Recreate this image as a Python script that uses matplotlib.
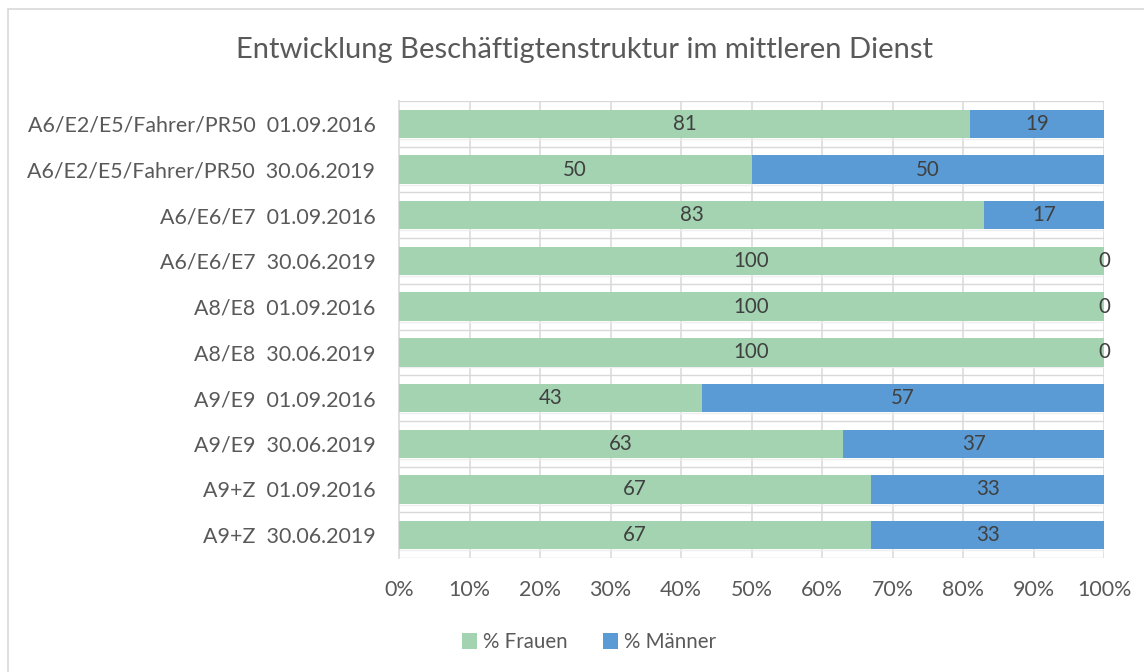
import matplotlib.pyplot as plt
import matplotlib.patches as mpatches

plt.rcParams['font.family'] = ['Lato', 'DejaVu Sans']

# data, top to bottom as in the chart
categories = [
    "A6/E2/E5/Fahrer/PR50  01.09.2016",
    "A6/E2/E5/Fahrer/PR50  30.06.2019",
    "A6/E6/E7  01.09.2016",
    "A6/E6/E7  30.06.2019",
    "A8/E8  01.09.2016",
    "A8/E8  30.06.2019",
    "A9/E9  01.09.2016",
    "A9/E9  30.06.2019",
    "A9+Z  01.09.2016",
    "A9+Z  30.06.2019",
]
frauen = [81, 50, 83, 100, 100, 100, 43, 63, 67, 67]
maenner = [19, 50, 17, 0, 0, 0, 57, 37, 33, 33]

green = "#A3D3B1"
blue = "#5B9BD5"
grid = "#D9D9D9"
txt = "#595959"
lbl = "#404040"

W, H = 1144, 672
fig = plt.figure(figsize=(W / 100, H / 100), dpi=100)

# light chart border (right/bottom edges fall outside the image)
fig.patches.append(mpatches.Rectangle((8 / W, -0.2), 1.2, 1.2 - 9 / H, transform=fig.transFigure,
                                      fill=False, edgecolor=grid, linewidth=1.2))

ax = fig.add_axes([399 / W, 1 - 558 / H, 705 / W, 457 / H])

n = len(categories)
y = list(range(n))
bh = 0.62

ax.barh(y, frauen, height=bh, color=green, label="% Frauen", zorder=3)
ax.barh(y, maenner, left=frauen, height=bh, color=blue, label="% Männer", zorder=3)

for i in range(n):
    ax.text(frauen[i] / 2, i, str(frauen[i]), ha="center", va="center",
            fontsize=14.8, color=lbl, zorder=4)
    ax.text(frauen[i] + maenner[i] / 2, i, str(maenner[i]), ha="center", va="center",
            fontsize=14.8, color=lbl, zorder=4)

ax.set_xlim(0, 100)
ax.set_ylim(n - 0.5, -0.5)
ax.set_yticks(y)
ax.set_yticklabels(categories, fontsize=15.4, color=txt)
ax.set_xticks(range(0, 101, 10))
ax.set_xticklabels([f"{v}%" for v in range(0, 101, 10)], fontsize=15.4, color=txt)
ax.tick_params(length=0)
ax.tick_params(axis="y", pad=17)
ax.tick_params(axis="x", pad=16)

# gridlines
for v in range(10, 101, 10):
    ax.axvline(v, color=grid, linewidth=1.1, zorder=1)
for i in range(n + 1):
    ax.axhline(i - 0.5, color=grid, linewidth=1.0, zorder=1)
for i in range(n):
    ax.axhline(i + bh / 2 + 0.02, color="#EEEEEE", linewidth=1.0, zorder=1)

for s in ["top", "right", "bottom"]:
    ax.spines[s].set_visible(False)
ax.spines["left"].set_color(grid)
ax.spines["left"].set_linewidth(1.2)

fig.text(584 / W, 1 - 50 / H, "Entwicklung Beschäftigtenstruktur im mittleren Dienst",
         ha="center", va="center", fontsize=21, color=txt)

leg = fig.legend(loc="center", bbox_to_anchor=(589 / W, 1 - 642 / H), ncol=2, frameon=False,
                 fontsize=14.8, handlelength=0.75, handleheight=0.85, handletextpad=0.3,
                 columnspacing=1.7)
for t in leg.get_texts():
    t.set_color(txt)

fig.savefig("out.png", dpi=100)
